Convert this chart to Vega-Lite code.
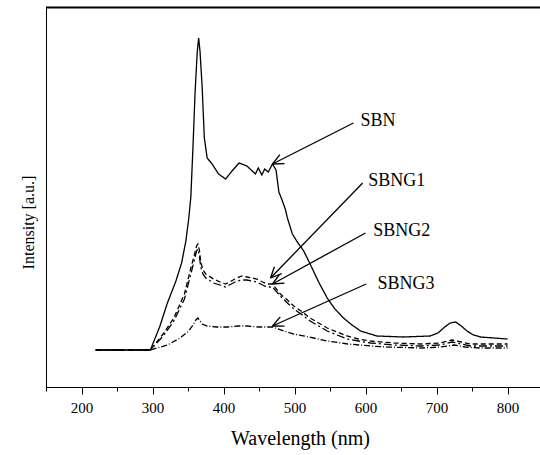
{
  "$schema": "https://vega.github.io/schema/vega-lite/v6.json",
  "autosize": {"type": "none"},
  "padding": {"left": 46, "top": 7, "right": 0, "bottom": 68},
  "width": 497,
  "height": 380,
  "config": {
    "font": "'Liberation Serif', serif",
    "view": {"stroke": "black", "strokeWidth": 1},
    "axis": {"domainColor": "black", "tickColor": "black", "labelColor": "black", "titleColor": "black", "grid": false, "titleFontWeight": "normal", "labelFont": "'Liberation Serif', serif", "titleFont": "'Liberation Serif', serif"}
  },
  "resolve": {"axis": {"x": "independent"}},
  "datasets": {
    "curves": [
      {"series": "SBN", "nm": 220, "I": 37}, {"series": "SBN", "nm": 297, "I": 37}, {"series": "SBN", "nm": 310, "I": 60}, {"series": "SBN", "nm": 321, "I": 84}, {"series": "SBN", "nm": 333, "I": 106}, {"series": "SBN", "nm": 341, "I": 124}, {"series": "SBN", "nm": 347, "I": 146}, {"series": "SBN", "nm": 351, "I": 168}, {"series": "SBN", "nm": 354, "I": 190}, {"series": "SBN", "nm": 357, "I": 240}, {"series": "SBN", "nm": 360, "I": 295}, {"series": "SBN", "nm": 363, "I": 335}, {"series": "SBN", "nm": 365, "I": 349}, {"series": "SBN", "nm": 367, "I": 335}, {"series": "SBN", "nm": 370, "I": 299}, {"series": "SBN", "nm": 373, "I": 249}, {"series": "SBN", "nm": 377, "I": 229}, {"series": "SBN", "nm": 384, "I": 223}, {"series": "SBN", "nm": 393, "I": 213}, {"series": "SBN", "nm": 403, "I": 208}, {"series": "SBN", "nm": 412, "I": 216}, {"series": "SBN", "nm": 422, "I": 224}, {"series": "SBN", "nm": 433, "I": 221}, {"series": "SBN", "nm": 445, "I": 213}, {"series": "SBN", "nm": 449, "I": 219}, {"series": "SBN", "nm": 454, "I": 212}, {"series": "SBN", "nm": 458, "I": 218}, {"series": "SBN", "nm": 463, "I": 215}, {"series": "SBN", "nm": 469, "I": 223}, {"series": "SBN", "nm": 474, "I": 217}, {"series": "SBN", "nm": 478, "I": 195}, {"series": "SBN", "nm": 483, "I": 186}, {"series": "SBN", "nm": 487, "I": 178}, {"series": "SBN", "nm": 490, "I": 169}, {"series": "SBN", "nm": 497, "I": 153}, {"series": "SBN", "nm": 504, "I": 145}, {"series": "SBN", "nm": 513, "I": 136}, {"series": "SBN", "nm": 522, "I": 123}, {"series": "SBN", "nm": 534, "I": 105}, {"series": "SBN", "nm": 546, "I": 89}, {"series": "SBN", "nm": 557, "I": 78}, {"series": "SBN", "nm": 569, "I": 69}, {"series": "SBN", "nm": 581, "I": 62}, {"series": "SBN", "nm": 593, "I": 56}, {"series": "SBN", "nm": 616, "I": 51}, {"series": "SBN", "nm": 653, "I": 50}, {"series": "SBN", "nm": 691, "I": 51}, {"series": "SBN", "nm": 702, "I": 54}, {"series": "SBN", "nm": 710, "I": 59}, {"series": "SBN", "nm": 719, "I": 64}, {"series": "SBN", "nm": 727, "I": 65}, {"series": "SBN", "nm": 735, "I": 61}, {"series": "SBN", "nm": 743, "I": 56}, {"series": "SBN", "nm": 752, "I": 52}, {"series": "SBN", "nm": 762, "I": 50}, {"series": "SBN", "nm": 800, "I": 48},
      {"series": "SBNG1", "nm": 220, "I": 37}, {"series": "SBNG1", "nm": 297, "I": 37}, {"series": "SBNG1", "nm": 315, "I": 53}, {"series": "SBNG1", "nm": 330, "I": 69}, {"series": "SBNG1", "nm": 345, "I": 93}, {"series": "SBNG1", "nm": 354, "I": 119}, {"series": "SBNG1", "nm": 359, "I": 132}, {"series": "SBNG1", "nm": 362, "I": 141}, {"series": "SBNG1", "nm": 364, "I": 143}, {"series": "SBNG1", "nm": 366, "I": 137}, {"series": "SBNG1", "nm": 368, "I": 125}, {"series": "SBNG1", "nm": 371, "I": 117}, {"series": "SBNG1", "nm": 375, "I": 113}, {"series": "SBNG1", "nm": 386, "I": 108}, {"series": "SBNG1", "nm": 395, "I": 105}, {"series": "SBNG1", "nm": 403, "I": 103}, {"series": "SBNG1", "nm": 411, "I": 106}, {"series": "SBNG1", "nm": 419, "I": 109}, {"series": "SBNG1", "nm": 426, "I": 111}, {"series": "SBNG1", "nm": 433, "I": 110}, {"series": "SBNG1", "nm": 440, "I": 109}, {"series": "SBNG1", "nm": 447, "I": 108}, {"series": "SBNG1", "nm": 455, "I": 105}, {"series": "SBNG1", "nm": 461, "I": 103}, {"series": "SBNG1", "nm": 469, "I": 103}, {"series": "SBNG1", "nm": 480, "I": 93}, {"series": "SBNG1", "nm": 490, "I": 87}, {"series": "SBNG1", "nm": 499, "I": 81}, {"series": "SBNG1", "nm": 511, "I": 75}, {"series": "SBNG1", "nm": 522, "I": 69}, {"series": "SBNG1", "nm": 534, "I": 64}, {"series": "SBNG1", "nm": 546, "I": 59}, {"series": "SBNG1", "nm": 560, "I": 55}, {"series": "SBNG1", "nm": 574, "I": 51}, {"series": "SBNG1", "nm": 590, "I": 48}, {"series": "SBNG1", "nm": 607, "I": 46}, {"series": "SBNG1", "nm": 640, "I": 44}, {"series": "SBNG1", "nm": 678, "I": 43}, {"series": "SBNG1", "nm": 705, "I": 44}, {"series": "SBNG1", "nm": 722, "I": 47}, {"series": "SBNG1", "nm": 735, "I": 45}, {"series": "SBNG1", "nm": 748, "I": 43}, {"series": "SBNG1", "nm": 800, "I": 43},
      {"series": "SBNG2", "nm": 220, "I": 37}, {"series": "SBNG2", "nm": 297, "I": 37}, {"series": "SBNG2", "nm": 315, "I": 51}, {"series": "SBNG2", "nm": 330, "I": 66}, {"series": "SBNG2", "nm": 345, "I": 88}, {"series": "SBNG2", "nm": 354, "I": 113}, {"series": "SBNG2", "nm": 359, "I": 127}, {"series": "SBNG2", "nm": 362, "I": 136}, {"series": "SBNG2", "nm": 364, "I": 138}, {"series": "SBNG2", "nm": 366, "I": 131}, {"series": "SBNG2", "nm": 368, "I": 120}, {"series": "SBNG2", "nm": 371, "I": 113}, {"series": "SBNG2", "nm": 375, "I": 109}, {"series": "SBNG2", "nm": 386, "I": 104}, {"series": "SBNG2", "nm": 395, "I": 102}, {"series": "SBNG2", "nm": 403, "I": 100}, {"series": "SBNG2", "nm": 411, "I": 103}, {"series": "SBNG2", "nm": 419, "I": 106}, {"series": "SBNG2", "nm": 426, "I": 107}, {"series": "SBNG2", "nm": 433, "I": 107}, {"series": "SBNG2", "nm": 440, "I": 106}, {"series": "SBNG2", "nm": 447, "I": 105}, {"series": "SBNG2", "nm": 455, "I": 102}, {"series": "SBNG2", "nm": 461, "I": 100}, {"series": "SBNG2", "nm": 469, "I": 100}, {"series": "SBNG2", "nm": 480, "I": 91}, {"series": "SBNG2", "nm": 490, "I": 84}, {"series": "SBNG2", "nm": 499, "I": 78}, {"series": "SBNG2", "nm": 511, "I": 72}, {"series": "SBNG2", "nm": 522, "I": 66}, {"series": "SBNG2", "nm": 534, "I": 61}, {"series": "SBNG2", "nm": 546, "I": 56}, {"series": "SBNG2", "nm": 560, "I": 52}, {"series": "SBNG2", "nm": 574, "I": 48}, {"series": "SBNG2", "nm": 590, "I": 46}, {"series": "SBNG2", "nm": 607, "I": 44}, {"series": "SBNG2", "nm": 640, "I": 42}, {"series": "SBNG2", "nm": 678, "I": 41}, {"series": "SBNG2", "nm": 705, "I": 42}, {"series": "SBNG2", "nm": 722, "I": 45}, {"series": "SBNG2", "nm": 735, "I": 43}, {"series": "SBNG2", "nm": 748, "I": 41}, {"series": "SBNG2", "nm": 800, "I": 41},
      {"series": "SBNG3", "nm": 220, "I": 37}, {"series": "SBNG3", "nm": 297, "I": 37}, {"series": "SBNG3", "nm": 321, "I": 42}, {"series": "SBNG3", "nm": 339, "I": 49}, {"series": "SBNG3", "nm": 351, "I": 56}, {"series": "SBNG3", "nm": 357, "I": 62}, {"series": "SBNG3", "nm": 361, "I": 67}, {"series": "SBNG3", "nm": 364, "I": 69}, {"series": "SBNG3", "nm": 367, "I": 66}, {"series": "SBNG3", "nm": 370, "I": 63}, {"series": "SBNG3", "nm": 377, "I": 61}, {"series": "SBNG3", "nm": 390, "I": 60}, {"series": "SBNG3", "nm": 405, "I": 60}, {"series": "SBNG3", "nm": 420, "I": 61}, {"series": "SBNG3", "nm": 433, "I": 61}, {"series": "SBNG3", "nm": 450, "I": 60}, {"series": "SBNG3", "nm": 469, "I": 60}, {"series": "SBNG3", "nm": 485, "I": 56}, {"series": "SBNG3", "nm": 499, "I": 53}, {"series": "SBNG3", "nm": 520, "I": 50}, {"series": "SBNG3", "nm": 546, "I": 46}, {"series": "SBNG3", "nm": 575, "I": 43}, {"series": "SBNG3", "nm": 607, "I": 41}, {"series": "SBNG3", "nm": 630, "I": 40}, {"series": "SBNG3", "nm": 680, "I": 39}, {"series": "SBNG3", "nm": 705, "I": 40}, {"series": "SBNG3", "nm": 725, "I": 42}, {"series": "SBNG3", "nm": 740, "I": 40}, {"series": "SBNG3", "nm": 760, "I": 39}, {"series": "SBNG3", "nm": 800, "I": 39}
    ],
    "arrows": [
      {"nm": 583, "I": 264, "nm2": 469, "I2": 223},
      {"nm": 469, "I": 223, "nm2": 485.9, "I2": 223.4},
      {"nm": 469, "I": 223, "nm2": 479.4, "I2": 232.4},
      {"nm": 596, "I": 204, "nm2": 466.2, "I2": 109},
      {"nm": 466.2, "I": 109, "nm2": 482, "I2": 113.3},
      {"nm": 466.2, "I": 109, "nm2": 471.7, "I2": 120.3},
      {"nm": 600, "I": 154, "nm2": 469, "I2": 103},
      {"nm": 469, "I": 103, "nm2": 485.9, "I2": 103.8},
      {"nm": 469, "I": 103, "nm2": 479, "I2": 112.7},
      {"nm": 601, "I": 103, "nm2": 469, "I2": 61},
      {"nm": 469, "I": 61, "nm2": 485.9, "I2": 60.8},
      {"nm": 469, "I": 61, "nm2": 480, "I2": 70.1}
    ],
    "frame": [
      {"nm": 150, "I": 379.5, "nm2": 850, "I2": 379.5}
    ],
    "labels": [
      {"label": "SBN", "nm": 593, "I": 266},
      {"label": "SBNG1", "nm": 604, "I": 206},
      {"label": "SBNG2", "nm": 611, "I": 156},
      {"label": "SBNG3", "nm": 617, "I": 103}
    ]
  },
  "layer": [
    {
      "data": {"name": "curves"},
      "mark": {"type": "line", "color": "black", "strokeWidth": 1.3},
      "encoding": {
        "x": {
          "field": "nm", "type": "quantitative",
          "scale": {"domain": [150, 850], "nice": false, "zero": false},
          "axis": {
            "orient": "bottom",
            "title": "Wavelength (nm)",
            "values": [200, 300, 400, 500, 600, 700, 800],
            "tickSize": 7,
            "labelFlush": false,
            "labelOverlap": false,
            "labelFontSize": 15,
            "labelPadding": 6,
            "titleFontSize": 20,
            "titlePadding": 13,
            "titleX": 254
          }
        },
        "y": {
          "field": "I", "type": "quantitative",
          "scale": {"domain": [0, 380], "nice": false},
          "axis": {
            "title": "Intensity [a.u.]",
            "labels": false, "ticks": false,
            "titleFontSize": 16,
            "titlePadding": 10,
            "titleY": 215
          }
        },
        "strokeDash": {
          "field": "series", "type": "nominal",
          "scale": {"domain": ["SBN", "SBNG1", "SBNG2", "SBNG3"], "range": [[1, 0], [5, 3], [8, 3, 2, 3], [6, 2, 1, 2]]},
          "legend": null
        },
        "detail": {"field": "series"}
      }
    },
    {
      "data": {"name": "arrows"},
      "mark": {"type": "rule", "color": "black", "strokeWidth": 1.3},
      "encoding": {
        "x": {
          "field": "nm", "type": "quantitative",
          "axis": {
            "orient": "bottom",
            "title": null,
            "labels": false,
            "domain": false,
            "values": [150, 250, 350, 450, 550, 650, 750],
            "tickSize": 4
          }
        },
        "y": {"field": "I", "type": "quantitative"},
        "x2": {"field": "nm2"},
        "y2": {"field": "I2"}
      }
    },
    {
      "data": {"name": "frame"},
      "mark": {"type": "rule", "color": "black", "strokeWidth": 2},
      "encoding": {
        "x": {"field": "nm", "type": "quantitative", "axis": null},
        "y": {"field": "I", "type": "quantitative"},
        "x2": {"field": "nm2"},
        "y2": {"field": "I2"}
      }
    },
    {
      "data": {"name": "labels"},
      "mark": {"type": "text", "align": "left", "baseline": "middle", "fontSize": 18, "color": "black", "font": "'Liberation Serif', serif"},
      "encoding": {
        "x": {"field": "nm", "type": "quantitative", "axis": null},
        "y": {"field": "I", "type": "quantitative"},
        "text": {"field": "label"}
      }
    }
  ]
}
